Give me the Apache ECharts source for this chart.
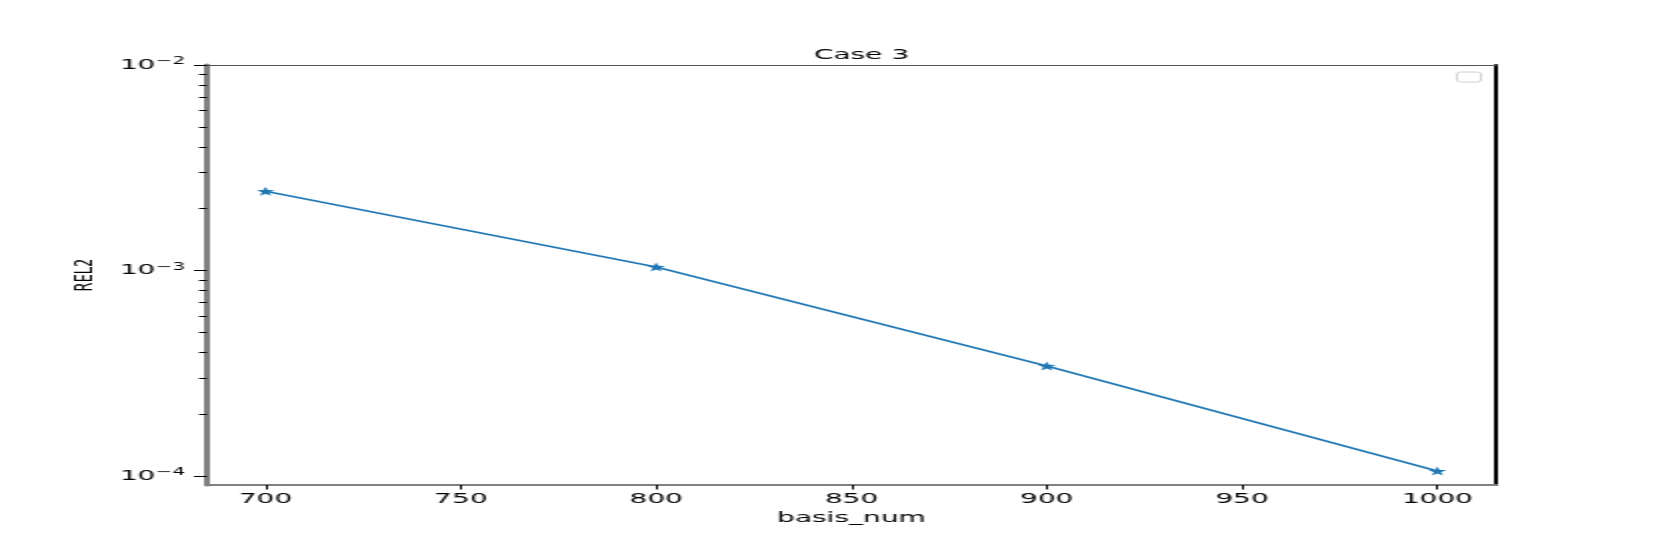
<!DOCTYPE html>
<html>
<head>
<meta charset="utf-8">
<script src="https://cdn.jsdelivr.net/npm/echarts@6/dist/echarts.min.js"></script>
<style>
  * { margin: 0; padding: 0; }
  body { background: #fff; width: 1661px; height: 545px; overflow: hidden; }
  /* the reference picture is stretched sideways, so the chart is too */
  #main { width: 831px; height: 545px; transform: scaleX(2); transform-origin: 0 0; }
</style>
</head>
<body>
<div id="main"></div>
<script>
  var basisNum = [700, 800, 900, 1000];
  var rel2 = [2.43e-3, 1.04e-3, 3.43e-4, 1.057e-4];
  var xTicks = [700, 750, 800, 850, 900, 950, 1000];
  var yMajor = [1e-4, 1e-3, 1e-2];
  var yMinor = [2e-4, 3e-4, 4e-4, 5e-4, 6e-4, 7e-4, 8e-4, 9e-4,
                2e-3, 3e-3, 4e-3, 5e-3, 6e-3, 7e-3, 8e-3, 9e-3];
  var xMin = 685, xMax = 1015;
  var yMin = 9.04e-5, yMax = 1e-2;

  var font = 'DejaVu Sans';
  var star = 'path://M0,-10 L2.35,-3.24 L9.51,-3.09 L3.8,1.24 L5.88,8.09 L0,4 L-5.88,8.09 L-3.8,1.24 L-9.51,-3.09 L-2.35,-3.24 Z';
  var gridBox = { left: 103.5, right: 83, top: 65, bottom: 60 };

  function powLabel(v) {
    var e = Math.round(Math.log10(v));
    if (Math.abs(Math.log10(v) - e) > 1e-6) return '';
    return '{b|10}{s|\u2212' + Math.abs(e) + '}';
  }

  var charts = echarts.init(document.getElementById('main'));
  charts.setOption({
    animation: false,
    title: {
      text: 'Case 3',
      left: 425.75,
      top: 43,
      textAlign: 'center',
      textStyle: { fontFamily: font, fontSize: 14, fontWeight: 'normal', color: '#000' }
    },
    grid: [
      Object.assign({ containLabel: false }, gridBox),
      Object.assign({ containLabel: false }, gridBox)
    ],
    xAxis: [
      {
        type: 'value', gridIndex: 0, position: 'bottom',
        min: xMin, max: xMax,
        name: 'basis_num', nameLocation: 'middle', nameGap: 22,
        nameTextStyle: { fontFamily: font, fontSize: 14, color: '#000' },
        axisLine: { show: true, lineStyle: { color: '#808080', width: 2 } },
        axisTick: { show: true, length: 4.5, customValues: xTicks, lineStyle: { color: '#000', width: 1 } },
        axisLabel: {
          customValues: xTicks, margin: 7, fontFamily: font, fontSize: 14, color: '#000',
          formatter: function (v) { return String(v); }
        },
        splitLine: { show: false }
      },
      {
        type: 'value', gridIndex: 0, position: 'top',
        min: xMin, max: xMax,
        axisLine: { show: true, lineStyle: { color: '#555', width: 1.2 } },
        axisTick: { show: false }, axisLabel: { show: false }, splitLine: { show: false }
      },
      {
        type: 'value', gridIndex: 1, show: false, min: xMin, max: xMax
      }
    ],
    yAxis: [
      {
        type: 'log', gridIndex: 0, position: 'left', logBase: 10,
        min: yMin, max: yMax,
        name: 'REL2', nameLocation: 'middle', nameGap: 52,
        nameTextStyle: { fontFamily: font, fontSize: 13, color: '#000' },
        axisLine: { show: true, lineStyle: { color: '#808080', width: 3 } },
        axisTick: { show: true, length: 6.5, customValues: yMajor, lineStyle: { color: '#000', width: 1 } },
        axisLabel: {
          customValues: yMajor,
          margin: 11,
          formatter: powLabel,
          rich: {
            b: { fontFamily: font, fontSize: 14, color: '#000' },
            s: { fontFamily: font, fontSize: 10, color: '#000', padding: [0, 0, 7, 0] }
          }
        },
        splitLine: { show: false },
        minorTick: { show: false }
      },
      {
        type: 'log', gridIndex: 0, position: 'right', logBase: 10,
        min: yMin, max: yMax,
        axisLine: { show: true, lineStyle: { color: '#000', width: 2 } },
        axisTick: { show: false }, axisLabel: { show: false }, splitLine: { show: false }
      },
      {
        type: 'log', gridIndex: 1, position: 'left', logBase: 10,
        min: yMin, max: yMax,
        axisLine: { show: false },
        axisTick: { show: true, length: 4, customValues: yMinor, lineStyle: { color: '#000', width: 1 } },
        axisLabel: { show: false },
        splitLine: { show: false }
      }
    ],
    graphic: [
      {
        // empty legend frame, as in the reference
        type: 'rect',
        shape: { x: 728.5, y: 72, width: 12, height: 10, r: 2 },
        style: { fill: '#fff', stroke: '#d0d0d0', lineWidth: 1 }
      }
    ],
    series: [
      {
        type: 'line',
        xAxisIndex: 0,
        yAxisIndex: 0,
        data: basisNum.map(function (x, i) { return [x, rel2[i]]; }),
        symbol: star,
        symbolSize: 9,
        showAllSymbol: true,
        itemStyle: { color: '#1f77b4' },
        lineStyle: { color: '#1f77b4', width: 1.7 }
      }
    ]
  });
</script>
</body>
</html>
